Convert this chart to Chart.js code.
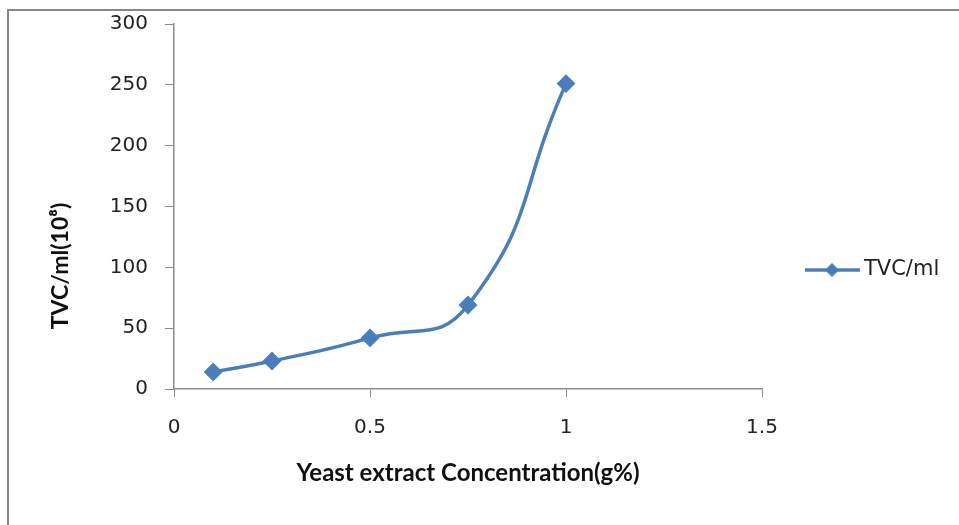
<!DOCTYPE html>
<html>
<head>
<meta charset="utf-8">
<script src="https://cdn.jsdelivr.net/npm/chart.js@4"></script>
<style>
  html, body { margin: 0; padding: 0; background: #fff; }
  #wrap { position: relative; width: 959px; height: 525px; }
  #frame {
    position: absolute; left: 7px; top: 9px; right: -4px; bottom: -4px;
    border-top: 2px solid #888; border-left: 2px solid #888;
    pointer-events: none;
  }
  canvas { position: absolute; left: 0; top: 0; }
</style>
</head>
<body>
<div id="wrap">
  <canvas id="chart" width="959" height="525"></canvas>
  <div id="frame"></div>
</div>
<script>
// data
const concentration = [0.1, 0.25, 0.5, 0.75, 1];
const tvc = [14, 23, 42, 69, 251];
const seriesName = 'TVC/ml';
const xTitle = 'Yeast extract Concentration(g%)';
const yTitle = 'TVC/ml(10\u2078)';

const blue = '#4a7ebb';
const axisGray = '#8c8c8c';
const tickFont = { family: "'DejaVu Sans', Verdana, sans-serif", size: 20 };
const titleFont = { family: "Lato, 'Open Sans', sans-serif", size: 24, weight: 'bold' };

// y title sits a bit below the middle of the plot, and the legend
// (line with diamond marker + label) on the right side
const extras = {
    id: 'extras',
    afterDraw(chart) {
        const ctx = chart.ctx;
        ctx.save();
        ctx.translate(61, 266);
        ctx.rotate(-Math.PI / 2);
        ctx.fillStyle = '#111';
        ctx.font = "bold 23px Lato, 'Open Sans', sans-serif";
        ctx.textAlign = 'center';
        ctx.textBaseline = 'middle';
        ctx.fillText(yTitle, 0, 0);
        ctx.restore();

        const x0 = 805, y = 270;
        ctx.save();
        ctx.strokeStyle = blue;
        ctx.lineWidth = 3.5;
        ctx.beginPath();
        ctx.moveTo(x0, y);
        ctx.lineTo(x0 + 55, y);
        ctx.stroke();
        ctx.fillStyle = blue;
        ctx.beginPath();
        ctx.moveTo(x0 + 27, y - 7);
        ctx.lineTo(x0 + 34, y);
        ctx.lineTo(x0 + 27, y + 7);
        ctx.lineTo(x0 + 20, y);
        ctx.closePath();
        ctx.fill();
        ctx.fillStyle = '#222';
        ctx.font = "21px 'DejaVu Sans', Verdana, sans-serif";
        ctx.textBaseline = 'middle';
        ctx.fillText(seriesName, x0 + 59, y);
        ctx.restore();
    }
};

new Chart(document.getElementById('chart'), {
    type: 'scatter',
    data: {
        datasets: [{
            label: seriesName,
            data: concentration.map((x, i) => ({ x: x, y: tvc[i] })),
            showLine: true,
            borderColor: blue,
            backgroundColor: blue,
            borderWidth: 3.5,
            tension: 0.5,
            pointStyle: 'rectRot',
            pointRadius: 7,
            pointHoverRadius: 7,
        }]
    },
    options: {
        responsive: false,
        animation: false,
        layout: { padding: { left: 0, right: 197, top: 24, bottom: 0 } },
        plugins: {
            legend: { display: false },
            tooltip: { enabled: false },
        },
        scales: {
            x: {
                type: 'linear',
                min: 0, max: 1.5,
                ticks: { stepSize: 0.5, color: '#222', font: tickFont, padding: 19, callback: (v) => String(v) },
                grid: { drawOnChartArea: false, drawTicks: true, tickLength: 8, color: axisGray },
                border: { color: axisGray, width: 1.5 },
                title: { display: true, text: xTitle, color: '#111', font: titleFont, padding: { top: 0, bottom: 37 } },
                afterFit: (s) => { s.height = 136; },
            },
            y: {
                min: 0, max: 300,
                ticks: { stepSize: 50, color: '#222', font: tickFont, padding: 17 },
                grid: { drawOnChartArea: false, drawTicks: true, tickLength: 9, color: axisGray },
                border: { color: axisGray, width: 1.5 },
                afterFit: (s) => { s.width = 174; s.paddingTop = 0; s.paddingBottom = 0; },
            }
        }
    },
    plugins: [extras]
});
</script>
</body>
</html>
